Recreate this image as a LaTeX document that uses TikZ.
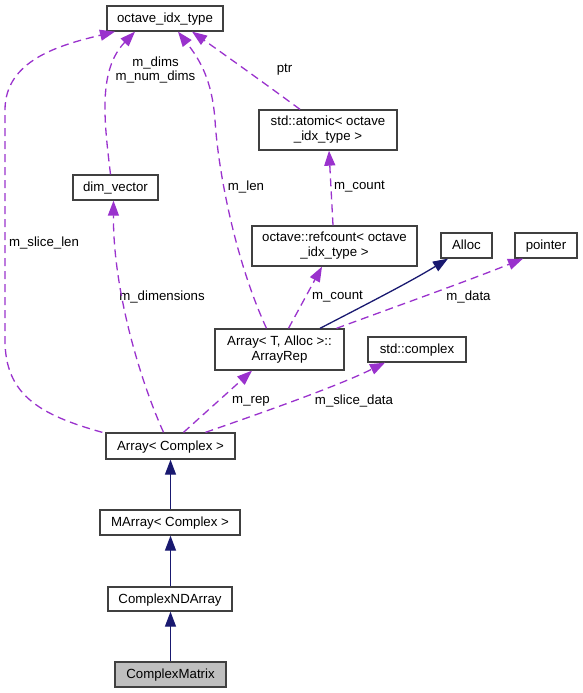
\documentclass[tikz,border=0pt]{standalone}
\usepackage{fontspec}
\setmainfont{Liberation Sans}
\usetikzlibrary{arrows.meta,calc}
\definecolor{edgepurple}{HTML}{9A32CD}
\definecolor{navyedge}{HTML}{191970}
\definecolor{boxline}{HTML}{404040}
\definecolor{grayfill}{HTML}{BFBFBF}
\tikzset{
  box/.style={draw=boxline,line width=1.3bp,fill=white,inner sep=0pt,align=center,
    font=\fontsize{13.3}{15}\selectfont},
  onebox/.style={box,text height=10bp,text depth=2bp},
  lbl/.style={inner sep=0pt,align=center,font=\fontsize{13.3}{14}\selectfont},
  member/.style={draw=edgepurple,line width=1.3bp,dash pattern=on 8bp off 5bp,
    -{Triangle[length=15bp,width=11bp,fill=edgepurple]}},
  inherit/.style={draw=navyedge,line width=1.3bp,
    -{Triangle[length=15bp,width=11bp,fill=navyedge]}},
}
\begin{document}
\begin{tikzpicture}[x=1bp,y=-1bp]
\useasboundingbox (0,0) rectangle (583,693);
% nodes
\node[onebox,minimum width=116bp,minimum height=25bp] (oit) at (165,18.5) {octave\_idx\_type};
\node[onebox,minimum width=85bp,minimum height=25bp] (dimv) at (115.5,187.5) {dim\_vector};
\node[box,minimum width=138bp,minimum height=40bp] (atom) at (328,130) {std::atomic< octave\\\_idx\_type >};
\node[box,minimum width=165bp,minimum height=40bp] (refc) at (334.5,246) {octave::refcount< octave\\\_idx\_type >};
\node[onebox,minimum width=51bp,minimum height=25bp] (alloc) at (466.5,245.5) {Alloc};
\node[onebox,minimum width=62bp,minimum height=25bp] (ptr) at (546,245.5) {pointer};
\node[box,minimum width=129bp,minimum height=41bp] (rep) at (279.5,349.5) {Array< T, Alloc >::\\ArrayRep};
\node[onebox,minimum width=98bp,minimum height=25bp] (cplx) at (417,349.5) {std::complex};
\node[onebox,minimum width=129bp,minimum height=26bp] (arr) at (170.5,446) {Array< Complex >};
\node[onebox,minimum width=140bp,minimum height=25bp] (marr) at (170,522.5) {MArray< Complex >};
\node[onebox,minimum width=124bp,minimum height=24bp] (cnd) at (170,599) {ComplexNDArray};
\node[onebox,fill=grayfill,minimum width=111bp,minimum height=25bp] (cm) at (170.5,674.5) {ComplexMatrix};
% labels
\node[lbl] (l1) at (44,243) {m\_slice\_len};
\node[lbl] (l2) at (162,297) {m\_dimensions};
\node[lbl] (l3) at (155.5,70) {m\_dims\\m\_num\_dims};
\node[lbl] (l4) at (246,187) {m\_len};
\node[lbl] (l5) at (284.5,70) {ptr};
\node[lbl] (l6) at (359.5,187) {m\_count};
\node[lbl] (l7) at (337.5,297) {m\_count};
\node[lbl] (l8) at (468.5,297) {m\_data};
\node[lbl] (l9) at (251,401) {m\_rep};
\node[lbl] (l10) at (354,401) {m\_slice\_data};
% member edges
\draw[member] ($(arr.north west)+(-3,0)$) .. controls (40,415) and (5,395) .. (5,340)
   -- (5,110) .. controls (5,60) and (60,45) .. ($(oit.south)+(-50,0)$);
\draw[member] ($(arr.north)+(-7,0)$) .. controls (140,380) and (113,290) .. ($(dimv.south)+(-2,0)$);
\draw[member] ($(dimv.north)+(-5,0)$) .. controls (104,120) and (98,70) .. ($(oit.south)+(-30,0)$);
\draw[member] ($(rep.north)+(-13,0)$) .. controls (235,260) and (218,170) .. (215,120)
   .. controls (212,80) and (200,60) .. ($(oit.south)+(13,0)$);
\draw[member] ($(atom.north)+(-28,0)$) .. controls (260,80) and (225,55) .. ($(oit.south)+(27,0)$);
\draw[member] ($(refc.north)+(-1.5,0)$) -- ($(atom.south)+(1,0)$);
\draw[member] ($(rep.north)+(9,0)$) -- ($(refc.south)+(-12.5,0)$);
\draw[member] ($(rep.north)+(57,0)$) .. controls (400,305) and (470,280) .. ($(ptr.south)+(-23,0)$);
\draw[member] ($(arr.north)+(13,0)$) -- ($(rep.south)+(-27.5,0)$);
\draw[member] ($(arr.north)+(35,0)$) .. controls (270,410) and (340,385) .. ($(cplx.south)+(-32,0)$);
% solid edges
\draw[inherit] ($(rep.north)+(40.5,0)$) .. controls (365,305) and (410,282) .. ($(alloc.south)+(-18.5,0)$);
\draw[inherit] ($(marr.north)+(0.5,0)$) -- (arr.south);
\draw[inherit] ($(cnd.north)+(0.5,0)$) -- ($(marr.south)+(0.5,0)$);
\draw[inherit] (cm.north) -- ($(cnd.south)+(0.5,0)$);
\end{tikzpicture}
\end{document}
